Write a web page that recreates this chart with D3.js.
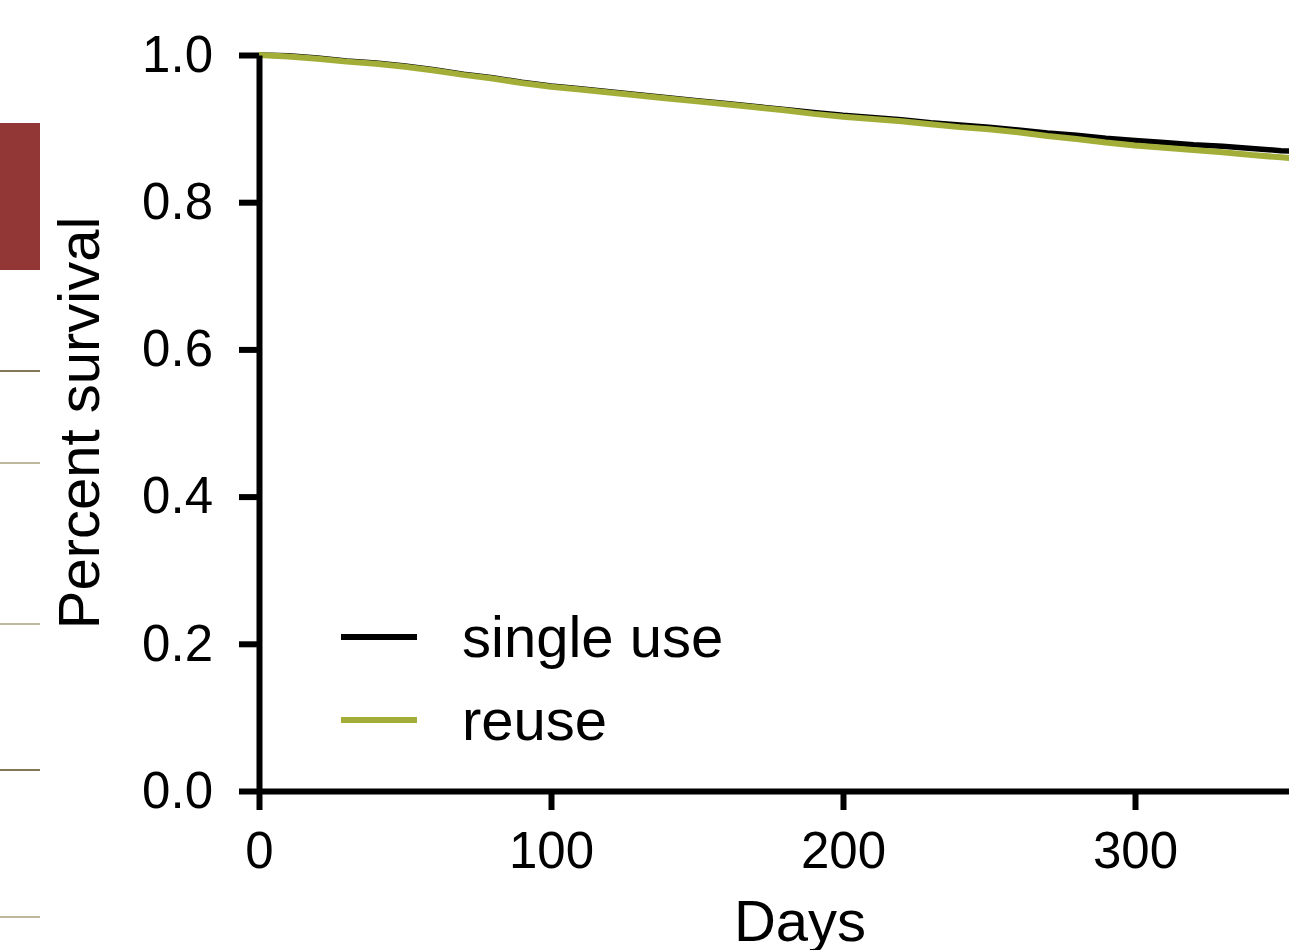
<!DOCTYPE html>
<html>
<head>
<meta charset="utf-8">
<script src="https://cdn.jsdelivr.net/npm/d3@7"></script>
<style>
  body { margin: 0; background: #fff; }
  svg { display: block; font-family: "Liberation Sans", Arial, sans-serif; }
</style>
</head>
<body>
<div id="chart"></div>
<script>
let width = 1289;
let height = 950;

// Kaplan-Meier estimates, every 10 days
var days = [0, 10, 20, 30, 40, 50, 60, 70, 80, 90, 100, 110, 120, 130, 140, 150, 160, 170, 180,
  190, 200, 210, 220, 230, 240, 250, 260, 270, 280, 290, 300, 310, 320, 330, 340, 350, 360];
var singleUse = [1.000, 0.999, 0.996, 0.992, 0.989, 0.985, 0.980, 0.974, 0.969, 0.963, 0.958,
  0.954, 0.950, 0.946, 0.942, 0.938, 0.934, 0.930, 0.926, 0.922, 0.918, 0.915, 0.912, 0.908,
  0.905, 0.902, 0.898, 0.894, 0.891, 0.887, 0.884, 0.881, 0.878, 0.876, 0.873, 0.870, 0.868];
var reuse = [1.000, 0.998, 0.995, 0.991, 0.988, 0.984, 0.979, 0.973, 0.968, 0.962, 0.957,
  0.953, 0.949, 0.945, 0.941, 0.937, 0.933, 0.929, 0.925, 0.920, 0.916, 0.913, 0.910, 0.906,
  0.902, 0.899, 0.895, 0.890, 0.886, 0.881, 0.877, 0.874, 0.871, 0.868, 0.864, 0.861, 0.858];

var seriesNames = ["single use", "reuse"];
var seriesColors = ["#000000", "#a3ae38"];
var xTicks = [0, 100, 200, 300];
var yTicks = [0, 0.2, 0.4, 0.6, 0.8, 1.0];

let svg = d3.select("#chart").append("svg")
  .attr("width", width)
  .attr("height", height);

// bits of the neighbouring panel that show at the left edge
svg.append("rect")
  .attr("x", 0).attr("y", 123).attr("width", 40).attr("height", 147)
  .attr("fill", "#923636");
var edgeLines = [[371, "#5c4b1f"], [463, "#a9a17f"], [624, "#a9a17f"], [770, "#5c4b1f"], [917, "#a9a17f"]];
svg.selectAll(".edge")
  .data(edgeLines)
  .enter().append("line")
  .attr("x1", 0).attr("x2", 40)
  .attr("y1", d => d[0]).attr("y2", d => d[0])
  .attr("stroke", d => d[1])
  .attr("stroke-width", 1.5);

// scales
var x = d3.scaleLinear().domain([0, 360]).range([259, 259 + 2.92 * 360]);
var y = d3.scaleLinear().domain([0, 1]).range([791, 55]);

// curves
var line = d3.line()
  .x(d => x(d[0]))
  .y(d => y(d[1]));

var series = [singleUse, reuse];
svg.append("g")
  .selectAll("path")
  .data(series)
  .enter().append("path")
  .attr("d", vals => line(days.map((t, i) => [t, vals[i]])))
  .attr("fill", "none")
  .attr("stroke", (d, i) => seriesColors[i])
  .attr("stroke-width", (d, i) => i === 0 ? 5.5 : 6);

// axes
var yAxis = svg.append("g")
  .attr("transform", "translate(" + x(0) + ",0)")
  .call(d3.axisLeft(y).tickValues(yTicks).tickFormat(d3.format(".1f"))
    .tickSize(20).tickSizeOuter(0).tickPadding(26));

var xAxis = svg.append("g")
  .attr("transform", "translate(0," + y(0) + ")")
  .call(d3.axisBottom(x).tickValues(xTicks).tickFormat(d3.format("d"))
    .tickSize(19).tickSizeOuter(0).tickPadding(22));

[xAxis, yAxis].forEach(function (g) {
  g.selectAll("path, line").attr("stroke", "#000").attr("stroke-width", 6);
  g.selectAll("text").attr("fill", "#000").style("font-size", "51px")
    .style("font-family", "'Liberation Sans', Arial, sans-serif");
});

// titles
svg.append("text")
  .attr("transform", "translate(99," + (y(0.5)) + ") rotate(-90)")
  .attr("text-anchor", "middle")
  .style("font-size", "58px")
  .text("Percent survival");

// the axis title is cut by the bottom edge in the original too
svg.append("text")
  .attr("x", 800).attr("y", 941)
  .attr("text-anchor", "middle")
  .style("font-size", "58px")
  .text("Days");

// legend
var legend = svg.append("g").selectAll("g")
  .data(seriesNames)
  .enter().append("g")
  .attr("transform", (d, i) => "translate(341," + (637 + i * 83) + ")");
legend.append("line")
  .attr("x1", 0).attr("x2", 76)
  .attr("stroke", (d, i) => seriesColors[i])
  .attr("stroke-width", 6);
legend.append("text")
  .attr("x", 121).attr("y", 20)
  .style("font-size", "58px")
  .text(d => d);
</script>
</body>
</html>
